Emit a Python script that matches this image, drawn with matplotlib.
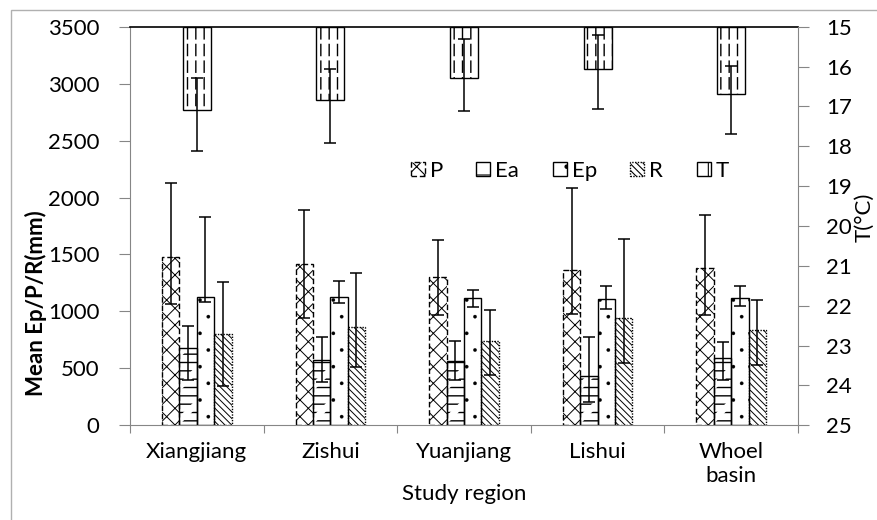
import numpy as np
import matplotlib
matplotlib.use("Agg")
import matplotlib.pyplot as plt
import matplotlib.patches as mpatches

plt.rcParams['font.family'] = ['Lato', 'DejaVu Sans']
plt.rcParams['hatch.linewidth'] = 0.8

regions = ["Xiangjiang", "Zishui", "Yuanjiang", "Lishui", "Whoel\nbasin"]

# means (mm) with the low / high ends of their error bars
P     = [1480, 1420, 1304, 1368, 1380]
P_lo  = [1064,  939,  965,  973,  965]
P_hi  = [2128, 1889, 1628, 2085, 1850]
Ea    = [675, 573, 567, 432, 587]
Ea_lo = [395, 382, 397, 202, 397]
Ea_hi = [876, 772, 742, 772, 733]
Ep    = [1124, 1123, 1114, 1105, 1114]
Ep_lo = [1084, 1070, 1041, 1020, 1047]
Ep_hi = [1831, 1266, 1187, 1225, 1225]
R     = [806, 860, 742, 938, 836]
R_lo  = [345, 514, 441, 549, 529]
R_hi  = [1261, 1339, 1011, 1632, 1099]

# mean temperature (°C) on the inverted right axis
T    = [17.09, 16.84, 16.29, 16.05, 16.70]
T_lo = [16.29, 16.07, 15.32, 15.20, 15.99]
T_hi = [18.13, 17.92, 17.11, 17.06, 17.70]

GRAY = '#868686'
FS = 16


def hatch_width(patches, lw):
    for p in patches:
        if hasattr(p, 'set_hatch_linewidth'):
            p.set_hatch_linewidth(lw)


def hatched_bars(axis, xs, heights, width, hatch, bottom=0, edge_ls='-',
                 hatch_lw=0.8, cut=None, cut_lw=3.0):
    """Bars with a black hatch; an optional white hatch on top breaks the
    lines into dashes, then the outline is drawn last."""
    bars = axis.bar(xs, heights, width, bottom=bottom, color='white',
                    edgecolor='black', hatch=hatch, linewidth=0, zorder=2)
    hatch_width(bars, hatch_lw)
    if cut:
        bars = axis.bar(xs, heights, width, bottom=bottom, facecolor='none',
                        edgecolor='white', hatch=cut, linewidth=0.5, zorder=2.1)
        for b in bars:
            b._hatch_color = (1, 1, 1, 1)
        hatch_width(bars, cut_lw)
    axis.bar(xs, heights, width, bottom=bottom, fill=False, edgecolor='black',
             linewidth=1.0, linestyle=edge_ls, zorder=2.2)


def err(axis, xs, mean, lo, hi):
    mean = np.asarray(mean)
    yerr = [mean - np.asarray(lo), np.asarray(hi) - mean]
    axis.errorbar(xs, mean, yerr=yerr, fmt='none', ecolor='black',
                  elinewidth=1.1, capsize=4.3, capthick=1.1, zorder=5)


fig = plt.figure(figsize=(8.77, 5.2), dpi=100)
ax = fig.add_axes([130 / 877, 1 - 425.3 / 520, 668 / 877, 398.6 / 520])
ax2 = ax.twinx()

x = np.arange(len(regions))
w = 0.13
P_ls = (0, (4, 2))
R_ls = (0, (1, 1))

hatched_bars(ax, x - 1.5 * w, P, w, 'xx', edge_ls=P_ls, hatch_lw=0.7)
hatched_bars(ax, x - 0.5 * w, Ea, w, '--', hatch_lw=1.0, cut='/', cut_lw=4.3)
hatched_bars(ax, x + 0.5 * w, Ep, w, '.', hatch_lw=0.2)
hatched_bars(ax, x + 1.5 * w, R, w, '\\' * 5, edge_ls=R_ls, hatch_lw=0.7)
err(ax, x - 1.5 * w, P, P_lo, P_hi)
err(ax, x - 0.5 * w, Ea, Ea_lo, Ea_hi)
err(ax, x + 0.5 * w, Ep, Ep_lo, Ep_hi)
err(ax, x + 1.5 * w, R, R_lo, R_hi)

# temperature bars hang from 15 °C at the top
T_arr = np.asarray(T)
hatched_bars(ax2, x, T_arr - 15, 0.21, '||', bottom=15, hatch_lw=1.0,
             cut='-', cut_lw=3.0)
err(ax2, x, T, T_lo, T_hi)

# left axis
ax.set_xlim(-0.5, len(regions) - 0.5)
ax.set_ylim(0, 3500)
ax.set_yticks(np.arange(0, 3501, 500))
ax.tick_params(axis='y', length=8, pad=14, color=GRAY, labelsize=FS)
ax.set_xticks(np.arange(-0.5, len(regions), 1))
ax.set_xticklabels([])
ax.tick_params(axis='x', which='major', length=6, color=GRAY)
ax.set_xticks(x, regions, minor=True)
ax.tick_params(axis='x', which='minor', length=0, pad=12, labelsize=FS)
for lbl in ax.get_xticklabels(minor=True):
    lbl.set_linespacing(1.25)

# right axis
ax2.set_ylim(25, 15)
ax2.set_yticks(np.arange(15, 26, 1))
ax2.tick_params(axis='y', length=8, pad=12, color=GRAY, labelsize=FS)

for s in ['left', 'bottom']:
    ax.spines[s].set_color(GRAY)
ax.spines['right'].set_visible(False)
ax.spines['top'].set_color('black')
ax.spines['top'].set_linewidth(1.2)
for s in ['left', 'bottom', 'top']:
    ax2.spines[s].set_visible(False)
ax2.spines['right'].set_color(GRAY)

ax.set_ylabel('Mean Ep/P/R(mm)', fontsize=FS, fontweight='bold')
ax.yaxis.set_label_coords(-0.124, 0.307)
ax.set_xlabel('Study region', fontsize=FS)
ax.xaxis.set_label_coords(0.5, -0.147)
ax2.set_ylabel('T(°C)', fontsize=FS)
ax2.yaxis.set_label_coords(1.085, 0.523)

handles = [
    mpatches.Patch(facecolor='white', edgecolor='black', hatch='xx', linestyle=P_ls, label='P'),
    mpatches.Patch(facecolor='white', edgecolor='black', hatch='-', label='Ea'),
    mpatches.Patch(facecolor='white', edgecolor='black', hatch='.', label='Ep'),
    mpatches.Patch(facecolor='white', edgecolor='black', hatch='\\' * 5, linestyle=R_ls, label='R'),
    mpatches.Patch(facecolor='white', edgecolor='black', hatch='|', label='T'),
]
ax2.legend(handles=handles, ncol=5, frameon=False, fontsize=FS,
           loc='center left', bbox_to_anchor=(0.42, 0.638),
           borderpad=0, borderaxespad=0, handlelength=0.63, handleheight=0.63,
           handletextpad=0.23, columnspacing=1.5)

# chart frame
fig.add_artist(mpatches.Rectangle((11 / 877, -5 / 520), 880 / 877, 515 / 520,
                                  transform=fig.transFigure, fill=False,
                                  edgecolor='#b0b0b0', linewidth=1))

fig.savefig('out.png', dpi=100)
